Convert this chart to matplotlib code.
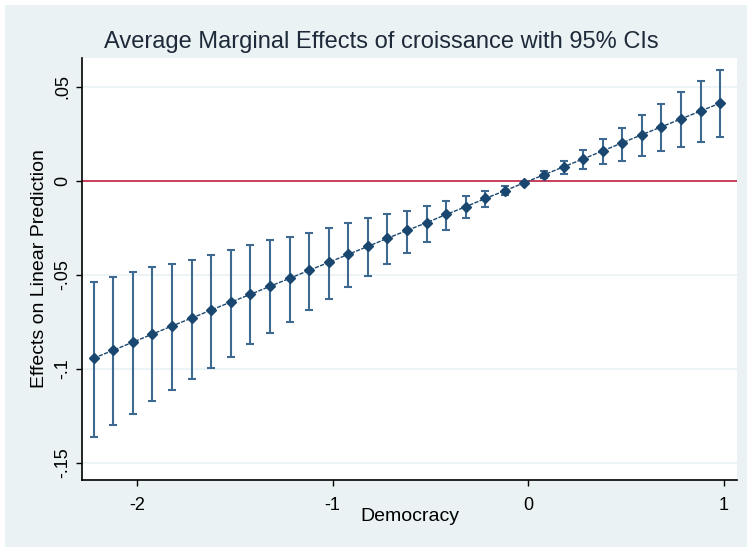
import matplotlib
matplotlib.use("Agg")
import matplotlib.pyplot as plt
from matplotlib.patches import Rectangle

# Democracy values where the margins are evaluated
democracy = [-2.22, -2.12, -2.02, -1.92, -1.82, -1.72, -1.62, -1.52, -1.42, -1.32,
             -1.22, -1.12, -1.02, -0.92, -0.82, -0.72, -0.62, -0.52, -0.42, -0.32,
             -0.22, -0.12, -0.02, 0.08, 0.18, 0.28, 0.38, 0.48, 0.58, 0.68,
             0.78, 0.88, 0.98]

effect = [-0.0942, -0.0900, -0.0857, -0.0814, -0.0771, -0.0729, -0.0686, -0.0644,
          -0.0603, -0.0560, -0.0518, -0.0475, -0.0433, -0.0390, -0.0348, -0.0305,
          -0.0263, -0.0222, -0.0178, -0.0137, -0.0093, -0.0052, -0.0009, 0.0033,
          0.0075, 0.0117, 0.0160, 0.0203, 0.0246, 0.0288, 0.0330, 0.0372, 0.0414]

ci_upper = [-0.0536, -0.0512, -0.0484, -0.0459, -0.0441, -0.0419, -0.0392, -0.0367,
            -0.0342, -0.0316, -0.0299, -0.0275, -0.0248, -0.0223, -0.0198, -0.0174,
            -0.0157, -0.0131, -0.0105, -0.0080, -0.0055, -0.0027, -0.0003, 0.0052,
            0.0108, 0.0165, 0.0223, 0.0284, 0.0353, 0.0411, 0.0472, 0.0530, 0.0589]

ci_lower = [-0.1360, -0.1300, -0.1239, -0.1172, -0.1113, -0.1055, -0.0993, -0.0935,
            -0.0867, -0.0809, -0.0748, -0.0688, -0.0629, -0.0562, -0.0504, -0.0443,
            -0.0382, -0.0326, -0.0259, -0.0198, -0.0140, -0.0077, -0.0015, 0.0014,
            0.0036, 0.0064, 0.0089, 0.0106, 0.0131, 0.0158, 0.0182, 0.0209, 0.0234]

xticks = [-2, -1, 0, 1]
xticklabels = ["-2", "-1", "0", "1"]
yticks = [0.05, 0, -0.05, -0.1, -0.15]
yticklabels = [".05", "0", "-.05", "-.1", "-.15"]

plt.rcParams["font.family"] = ["Liberation Sans", "DejaVu Sans"]

bg = "#EAF2F3"
navy = "#1A476F"
ci_col = "#3E6A92"

fig = plt.figure(figsize=(7.47, 5.47), dpi=100, facecolor="white")
fig.patches.append(Rectangle((5 / 747, 0), 742 / 747, 542 / 547,
                             transform=fig.transFigure, facecolor=bg,
                             edgecolor="none", zorder=-10))

ax = fig.add_axes([82 / 747, 67 / 547, 655 / 747, 422 / 547])
ax.set_facecolor("white")

for y in yticks:
    ax.axhline(y, color=bg, lw=1.2, zorder=1)
ax.axhline(0, color="#C8324F", lw=1.3, zorder=2)

err_lo = [e - l for e, l in zip(effect, ci_lower)]
err_hi = [u - e for e, u in zip(effect, ci_upper)]
ax.errorbar(democracy, effect, yerr=[err_lo, err_hi], fmt="none",
            ecolor=ci_col, elinewidth=1.5, capsize=3, capthick=1.5, zorder=3)
ax.plot(democracy, effect, color=navy, lw=1.0, ls=(0, (3, 1)), zorder=4)
ax.plot(democracy, effect, ls="none", marker="D", ms=5, color=navy, zorder=5)

ax.set_xlim(-2.28, 1.066)
ax.set_ylim(-0.159, 0.0654)

ax.set_xticks(xticks)
ax.set_xticklabels(xticklabels, fontsize=13)
ax.set_yticks(yticks)
ax.set_yticklabels(yticklabels, fontsize=13, rotation=90, va="center")
ax.tick_params(direction="out", length=4, width=1, color="black")
ax.tick_params(axis="x", pad=8)
ax.tick_params(axis="y", pad=4)

for side in ["top", "right"]:
    ax.spines[side].set_visible(False)
for side in ["left", "bottom"]:
    ax.spines[side].set_color("black")
    ax.spines[side].set_linewidth(1.2)

ax.set_xlabel("Democracy", fontsize=14, labelpad=-4)
ax.set_ylabel("Effects on Linear Prediction", fontsize=14, labelpad=4)
fig.text(381 / 747, 1 - 48 / 547, "Average Marginal Effects of croissance with 95% CIs",
         fontsize=17, color="#1E2A3A", ha="center", va="baseline")

fig.savefig("out.png", dpi=100, facecolor=fig.get_facecolor())
